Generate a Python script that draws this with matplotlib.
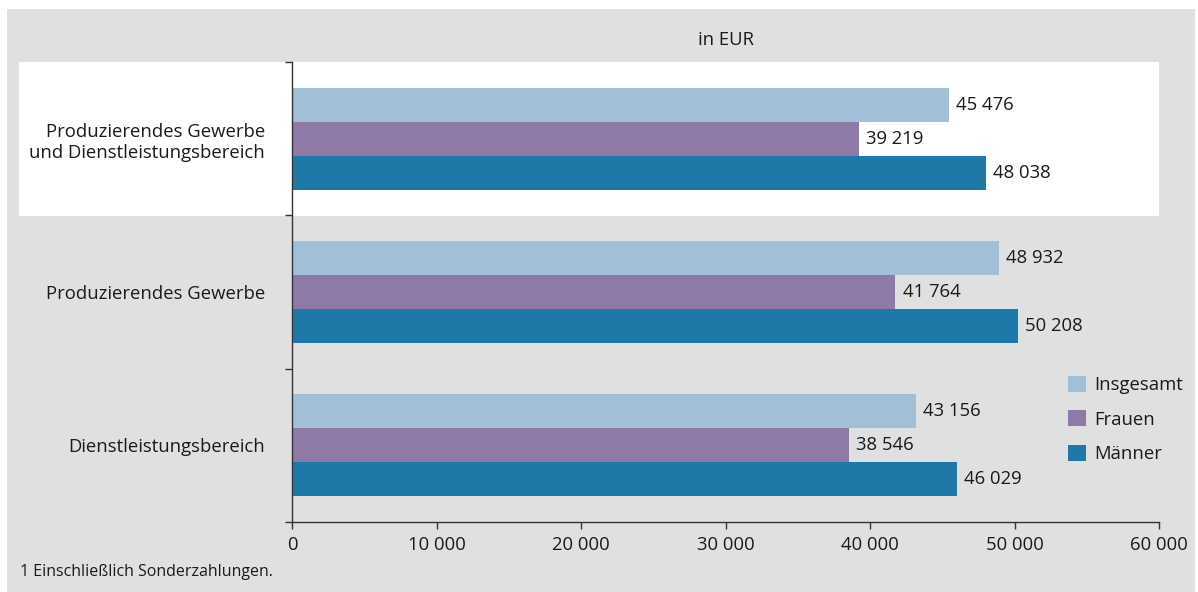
import matplotlib
matplotlib.use("Agg")
import matplotlib.pyplot as plt
from matplotlib.patches import Rectangle
import numpy as np

plt.rcParams['font.family'] = ['Open Sans', 'DejaVu Sans']

categories = ["Produzierendes Gewerbe\nund Dienstleistungsbereich",
              "Produzierendes Gewerbe",
              "Dienstleistungsbereich"]
series_names = ["Insgesamt", "Frauen", "Männer"]
insgesamt = [45476, 48932, 43156]
frauen = [39219, 41764, 38546]
maenner = [48038, 50208, 46029]
xticks = [0, 10000, 20000, 30000, 40000, 50000, 60000]
xtick_labels = ["0", "10 000", "20 000", "30 000", "40 000", "50 000", "60 000"]
title = "in EUR"
footnote = "1 Einschließlich Sonderzahlungen."

colors = ["#A2BFD8", "#8F79A7", "#1F79A8"]
bg = "#DFE0E2"
txt = "#1a1a1a"
fs = 13.3

W, H = 1198, 592
fig = plt.figure(figsize=(W/100, H/100), dpi=100)
fig.patch.set_facecolor("white")

def fx(px): return px / W
def fy(py): return 1 - py / H

# gray panel
fig.patches.append(Rectangle((fx(7), fy(592)), fx(1195) - fx(7), fy(9) - fy(592),
                             transform=fig.transFigure, facecolor=bg, edgecolor="none", zorder=-2))
# white highlight for first group
fig.patches.append(Rectangle((fx(19), fy(215.5)), fx(1159) - fx(19), fy(62) - fy(215.5),
                             transform=fig.transFigure, facecolor="white", edgecolor="none", zorder=-1))

ax = fig.add_axes([fx(292), fy(522), fx(1159) - fx(292), fy(62) - fy(522)])
ax.set_facecolor("none")
ax.set_zorder(1)

y = np.arange(len(categories))
h = 0.222
data = [insgesamt, frauen, maenner]
for i, (vals, name, c) in enumerate(zip(data, series_names, colors)):
    pos = y + (i - 1) * h
    ax.barh(pos, vals, height=h, color=c, label=name, zorder=2)
    for p, v in zip(pos, vals):
        ax.text(v + 500, p, f"{v:,}".replace(",", " "), va="center", ha="left",
                fontsize=fs, color=txt)

ax.set_xlim(0, 60000)
ax.set_ylim(2.5, -0.5)
ax.set_xticks(xticks)
ax.set_xticklabels(xtick_labels, fontsize=fs, color=txt)
ax.set_yticks([-0.5, 0.5, 1.5, 2.5])
ax.set_yticklabels([])
ax.set_yticks(y, minor=True)
ax.set_yticklabels(categories, minor=True, fontsize=fs, color=txt, ha="right", linespacing=1.25)
ax.tick_params(axis="y", which="minor", length=0, pad=19.5)
ax.tick_params(axis="y", which="major", length=5, width=1, color="#333333", direction="out")
ax.tick_params(axis="x", length=5, width=1, color="#333333", direction="out", pad=5)
for s in ["top", "right"]:
    ax.spines[s].set_visible(False)
for s in ["left", "bottom"]:
    ax.spines[s].set_color("#333333")
    ax.spines[s].set_linewidth(1)

ax.set_title(title, fontsize=fs, color=txt, pad=12)

leg = fig.legend(*ax.get_legend_handles_labels(), loc="upper left",
                 bbox_to_anchor=(fx(1068), fy(376)), bbox_transform=fig.transFigure,
                 frameon=False, fontsize=fs, handlelength=0.95, handleheight=0.95,
                 handletextpad=0.45, labelspacing=0.87, borderaxespad=0, borderpad=0)
for t in leg.get_texts():
    t.set_color(txt)

fig.text(fx(20), fy(572), footnote, fontsize=11.5, color=txt, ha="left", va="center")

fig.savefig("out.png", dpi=100)
